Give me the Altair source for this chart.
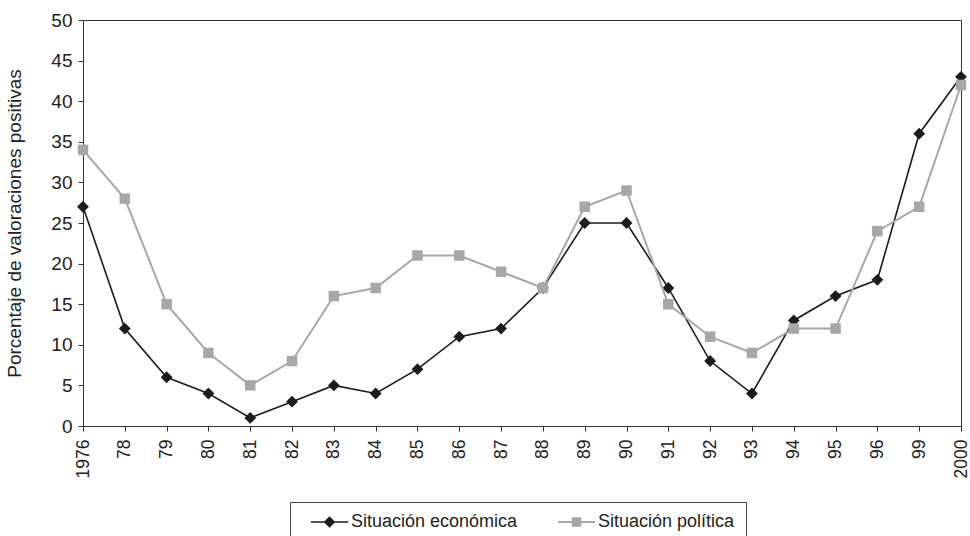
import altair as alt
import pandas as pd

anios = ["1976", "78", "79", "80", "81", "82", "83", "84", "85", "86", "87",
         "88", "89", "90", "91", "92", "93", "94", "95", "96", "99", "2000"]
economica = [27, 12, 6, 4, 1, 3, 5, 4, 7, 11, 12, 17, 25, 25, 17, 8, 4, 13, 16, 18, 36, 43]
politica = [34, 28, 15, 9, 5, 8, 16, 17, 21, 21, 19, 17, 27, 29, 15, 11, 9, 12, 12, 24, 27, 42]
series = ["Situación económica", "Situación política"]

rows = []
for a, e, p in zip(anios, economica, politica):
    rows.append({"anio": a, "serie": series[0], "valor": e})
    rows.append({"anio": a, "serie": series[1], "valor": p})
df = pd.DataFrame(rows)

FONT = "Liberation Sans"
BLACK = "#1c1c1c"
GRAY = "#a5a7a9"

x_enc = alt.X("anio:N", sort=anios, title="Años",
              scale=alt.Scale(type="point", padding=0),
              axis=alt.Axis(labelAngle=-90, labelFontSize=17.5, labelPadding=8,
                            tickSize=5, titleFontSize=18, titleFontWeight="normal",
                            titleY=450, domainColor="#333", tickColor="#333",
                            labelColor="#222", titleColor="#222"))
y_enc = alt.Y("valor:Q", title="Porcentaje de valoraciones positivas",
              scale=alt.Scale(domain=[0, 50]),
              axis=alt.Axis(values=list(range(0, 55, 5)), grid=False, labelFontSize=19,
                            labelPadding=6, tickSize=5, titleFontSize=19,
                            titleFontWeight="normal", titleX=-69, titleBaseline="middle",
                            domainColor="#333", tickColor="#333",
                            labelColor="#222", titleColor="#222"))

base = alt.Chart(df)

eco_line = base.transform_filter(alt.datum.serie == series[0]).mark_line(
    color=BLACK, strokeWidth=1.6).encode(x=x_enc, y=y_enc)
eco_pts = base.transform_filter(alt.datum.serie == series[0]).mark_point(
    shape="diamond", filled=True, color=BLACK, opacity=1, size=140).encode(x=x_enc, y=y_enc)
pol_line = base.transform_filter(alt.datum.serie == series[1]).mark_line(
    color=GRAY, strokeWidth=2).encode(x=x_enc, y=y_enc)
pol_pts = base.transform_filter(alt.datum.serie == series[1]).mark_point(
    shape="square", filled=True, color=GRAY, opacity=1, size=110).encode(x=x_enc, y=y_enc)

diamond_path = "M-1,-0.16L6.4,-0.16L6.4,0.16L-1,0.16Z M2.7,-1.15L3.85,0L2.7,1.15L1.55,0Z"
square_path = "M-1,-0.2L6.4,-0.2L6.4,0.2L-1,0.2Z M1.75,-0.95L3.65,-0.95L3.65,0.95L1.75,0.95Z"

legend_layer = base.mark_point(filled=True, opacity=1, size=100, clip=True).encode(
    x=x_enc,
    y=alt.value(-200),
    color=alt.Color("serie:N", scale=alt.Scale(domain=series, range=[BLACK, GRAY]),
                    legend=alt.Legend(title=None, orient="none", legendX=207, legendY=482,
                                      direction="horizontal", padding=11,
                                      strokeColor="#444", labelFontSize=18,
                                      labelColor="#222", symbolOffset=6,
                                      labelOffset=26, columnPadding=30, labelLimit=400,
                                      symbolSize=100, symbolStrokeWidth=0)),
    shape=alt.Shape("serie:N", scale=alt.Scale(domain=series,
                                                range=[diamond_path, square_path])),
)

chart = alt.layer(eco_line, eco_pts, pol_line, pol_pts, legend_layer).properties(
    width=878, height=406,
    autosize=alt.AutoSizeParams(type="none"),
    padding={"left": 83, "top": 20, "right": 9, "bottom": 110},
).configure(font=FONT).configure_view(stroke="#333", strokeWidth=1)

chart.save("out.html", embed_options={"renderer": "svg", "actions": False})
